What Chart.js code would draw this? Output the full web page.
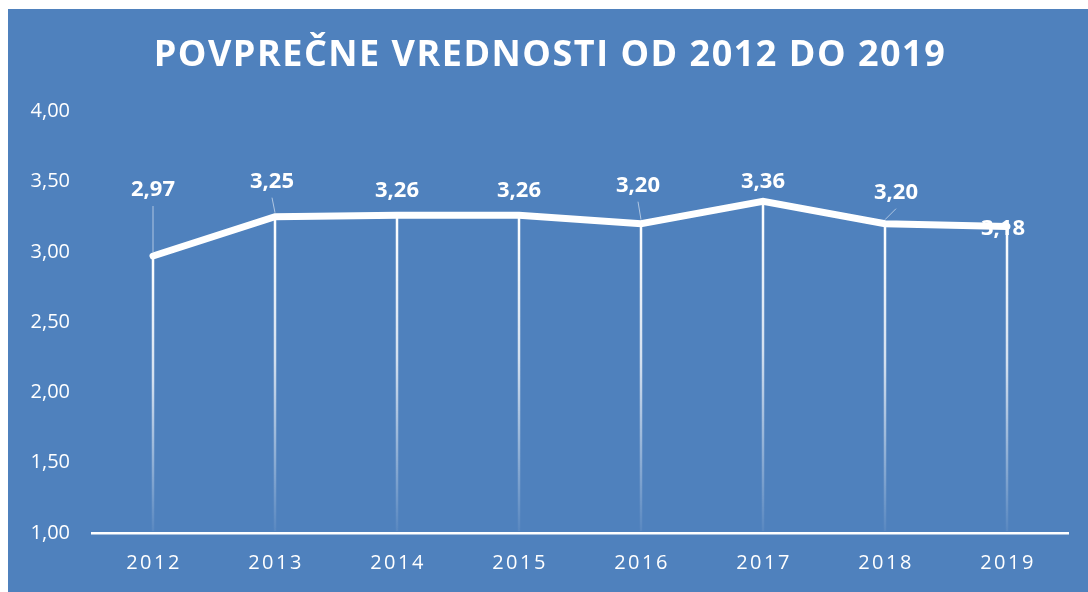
<!DOCTYPE html>
<html>
<head>
<meta charset="utf-8">
<script src="https://cdn.jsdelivr.net/npm/chart.js@4"></script>
<style>
  body { margin: 0; background: #ffffff; }
  #wrap { position: absolute; left: 8px; top: 9px; width: 1080px; height: 583px; background: #4f81bd; }
</style>
</head>
<body>
<div id="wrap"><canvas id="avgChart"></canvas></div>
<script>
const years = ["2012", "2013", "2014", "2015", "2016", "2017", "2018", "2019"];
const averages = [2.97, 3.25, 3.26, 3.26, 3.20, 3.36, 3.20, 3.18];
const yTickLabels = ["1,00", "1,50", "2,00", "2,50", "3,00", "3,50", "4,00"];

// where each value label sits relative to its point, and whether it has a leader line
const labelOffsets = [[0, -66], [-3, -35], [0, -25], [0, -25], [-3, -38], [0, -19], [11, -31], [-4, 2]];
const leaders = [true, true, false, false, true, false, true, false];

const fmt = v => v.toFixed(2).replace(".", ",");

// letter spacing (and a small shift) for the title and the year labels
const spacing = {
  id: "spacing",
  beforeDraw(chart) {
    if (chart.$spaced) return;
    const wrap = (obj, fn, sp, dx) => {
      const orig = obj[fn].bind(obj);
      obj[fn] = function (...a) {
        const c = chart.ctx;
        const prev = c.letterSpacing;
        c.save();
        c.translate(dx, 0);
        c.letterSpacing = sp;
        orig(...a);
        c.letterSpacing = prev;
        c.restore();
      };
    };
    wrap(chart.titleBlock, "draw", "1.5px", 12);
    wrap(chart.scales.x, "drawLabels", "2.5px", 1);
    chart.$spaced = true;
  }
};

const dropLines = {
  id: "dropLines",
  beforeDatasetsDraw(chart) {
    const ctx = chart.ctx;
    const area = chart.chartArea;
    const meta = chart.getDatasetMeta(0);
    ctx.save();
    meta.data.forEach(pt => {
      const g = ctx.createLinearGradient(0, pt.y, 0, area.bottom);
      g.addColorStop(0, "rgba(255,255,255,1)");
      g.addColorStop(0.45, "rgba(255,255,255,0.75)");
      g.addColorStop(1, "rgba(255,255,255,0.05)");
      ctx.strokeStyle = g;
      ctx.lineWidth = 2.5;
      ctx.beginPath();
      ctx.moveTo(pt.x, pt.y);
      ctx.lineTo(pt.x, area.bottom - 2);
      ctx.stroke();
    });
    ctx.restore();
  }
};

const valueLabels = {
  id: "valueLabels",
  afterDatasetsDraw(chart) {
    const ctx = chart.ctx;
    const meta = chart.getDatasetMeta(0);
    ctx.save();
    meta.data.forEach((pt, i) => {
      const lx = pt.x + labelOffsets[i][0];
      const ly = pt.y + labelOffsets[i][1];
      if (leaders[i]) {
        ctx.strokeStyle = "rgba(255,255,255,0.55)";
        ctx.lineWidth = 1;
        ctx.beginPath();
        ctx.moveTo(lx, ly + 16);
        ctx.lineTo(pt.x, pt.y - 4);
        ctx.stroke();
      }
      ctx.fillStyle = "#ffffff";
      ctx.font = "bold 22px 'Open Sans'";
      ctx.textAlign = "center";
      ctx.textBaseline = "middle";
      ctx.fillText(fmt(averages[i]), lx, ly);
    });
    ctx.restore();
  }
};

const ctx = document.getElementById("avgChart");

const avgChart = new Chart(ctx, {
  type: "line",
  data: {
    labels: years,
    datasets: [
      {
        label: "Povprečje",
        data: averages,
        borderColor: "#ffffff",
        borderWidth: 7,
        borderCapStyle: "round",
        borderJoinStyle: "miter",
        pointRadius: 0,
        tension: 0,
        clip: false
      }
    ]
  },
  options: {
    responsive: true,
    maintainAspectRatio: false,
    animation: false,
    layout: {
      padding: { left: 0, right: 20, top: 0, bottom: 0 }
    },
    plugins: {
      legend: { display: false },
      tooltip: { enabled: false },
      title: {
        display: true,
        text: "POVPREČNE VREDNOSTI OD 2012 DO 2019",
        color: "#ffffff",
        font: { family: "'Open Sans'", size: 36, weight: "bold", lineHeight: 1.2 },
        padding: { top: 25, bottom: 34 }
      }
    },
    scales: {
      x: {
        offset: true,
        grid: { display: false, drawTicks: false },
        border: { display: true, color: "#ffffff", width: 2.5 },
        ticks: {
          color: "#ffffff",
          padding: 18,
          font: { family: "'Open Sans'", size: 20 }
        },
        afterFit: scale => { scale.height = 59; }
      },
      y: {
        min: 1,
        max: 4,
        grid: { display: false, drawTicks: false },
        border: { display: false },
        ticks: {
          stepSize: 0.5,
          color: "#ffffff",
          padding: 22,
          font: { family: "'Open Sans'", size: 20 },
          callback: (v, i) => yTickLabels[i]
        },
        afterFit: scale => { scale.width = 84; }
      }
    }
  },
  plugins: [spacing, dropLines, valueLabels]
});
</script>
</body>
</html>
